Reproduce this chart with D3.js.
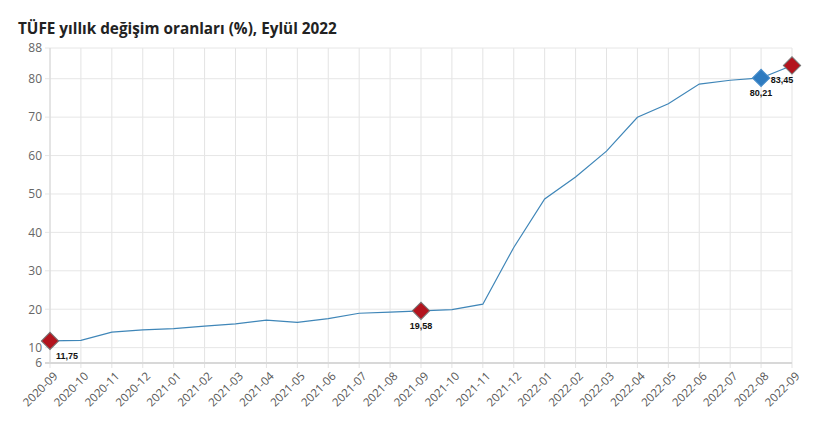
<!DOCTYPE html>
<html>
<head>
<meta charset="utf-8">
<script src="https://cdn.jsdelivr.net/npm/d3@7"></script>
<style>
  body { margin: 0; background: #fff; }
  svg { display: block; font-family: "Open Sans", "DejaVu Sans", sans-serif; }
</style>
</head>
<body>
<svg id="chart" width="823" height="430"></svg>
<script>
// veriler
const months = ['2020-09','2020-10','2020-11','2020-12','2021-01','2021-02','2021-03','2021-04',
  '2021-05','2021-06','2021-07','2021-08','2021-09','2021-10','2021-11','2021-12','2022-01',
  '2022-02','2022-03','2022-04','2022-05','2022-06','2022-07','2022-08','2022-09'];
const tufe = [11.75, 11.89, 14.03, 14.60, 14.97, 15.61, 16.19, 17.14, 16.59, 17.53, 18.95, 19.25,
  19.58, 19.89, 21.31, 36.08, 48.69, 54.44, 61.14, 69.97, 73.50, 78.62, 79.60, 80.21, 83.45];
const yTicks = [6, 10, 20, 30, 40, 50, 60, 70, 80, 88];
const markedRed = ['2020-09', '2021-09', '2022-09'];
const markedBlue = ['2022-08'];

const svg = d3.select('#chart');
const mLeft = 50, mRight = 792, mTop = 48, mBottom = 363;

const x = d3.scalePoint().domain(months).range([mLeft, mRight]);
const y = d3.scaleLinear().domain([6, 88]).range([mBottom, mTop]);

svg.append('text')
  .attr('x', 18).attr('y', 34)
  .attr('font-size', 15.3).attr('font-weight', 700).attr('fill', '#222')
  .text('TÜFE yıllık değişim oranları (%), Eylül 2022');

// izgara
svg.append('g').selectAll('line').data(months).join('line')
  .attr('x1', d => x(d)).attr('x2', d => x(d))
  .attr('y1', mTop).attr('y2', mBottom + 5)
  .attr('stroke', '#e3e3e3').attr('stroke-width', 1);

svg.append('g').selectAll('line').data(yTicks).join('line')
  .attr('x1', mLeft - 5).attr('x2', mRight)
  .attr('y1', d => y(d)).attr('y2', d => y(d))
  .attr('stroke', d => d === 6 ? '#d8d8d8' : '#e6e6e6')
  .attr('stroke-width', d => d === 6 ? 2 : 1);

svg.append('line')
  .attr('x1', mLeft).attr('x2', mLeft).attr('y1', mTop).attr('y2', mBottom)
  .attr('stroke', '#d8d8d8');

// eksen etiketleri
const yAxis = svg.append('g')
  .attr('transform', `translate(${mLeft - 6},0)`)
  .call(d3.axisLeft(y).tickValues(yTicks).tickSize(0).tickPadding(2));
yAxis.select('.domain').remove();
yAxis.selectAll('text').attr('font-size', 12).attr('fill', '#666')
  .attr('font-family', '"Open Sans", sans-serif');

const xAxis = svg.append('g')
  .attr('transform', `translate(0,${mBottom})`)
  .call(d3.axisBottom(x).tickSize(0));
xAxis.select('.domain').remove();
xAxis.selectAll('text')
  .attr('font-size', 11.5).attr('fill', '#555')
  .attr('font-family', '"Open Sans", sans-serif')
  .attr('text-anchor', 'end')
  .attr('y', 0).attr('dy', '0.35em')
  .attr('transform', 'translate(5,11) rotate(-45)');

// cizgi
const line = d3.line().x((d, i) => x(months[i])).y(d => y(d));
svg.append('path').datum(tufe)
  .attr('d', line).attr('fill', 'none')
  .attr('stroke', '#3f86b8').attr('stroke-width', 1.2);

// isaretler
const diamond = d3.symbol().type(d3.symbolSquare).size(150);
const marks = months.map((m, i) => ({ m, v: tufe[i] }))
  .filter(d => markedRed.includes(d.m) || markedBlue.includes(d.m));

svg.append('g').selectAll('path').data(marks).join('path')
  .attr('d', diamond)
  .attr('transform', d => `translate(${x(d.m)},${y(d.v)}) rotate(45)`)
  .attr('fill', d => markedBlue.includes(d.m) ? '#2e7bc0' : '#b3141e')
  .attr('stroke', d => markedBlue.includes(d.m) ? '#4a8fcc' : '#777')
  .attr('stroke-width', 1);

const fmt = v => v.toFixed(2).replace('.', ',');
const labelPos = { '2020-09': [6, 18, 'start'], '2021-09': [0, 18, 'middle'],
  '2022-08': [0, 18, 'middle'], '2022-09': [-10, 18, 'middle'] };
svg.append('g').selectAll('text').data(marks).join('text')
  .attr('x', d => x(d.m) + labelPos[d.m][0])
  .attr('y', d => y(d.v) + labelPos[d.m][1])
  .attr('text-anchor', d => labelPos[d.m][2])
  .attr('font-family', '"Liberation Sans", Arial, sans-serif')
  .attr('font-size', 9).attr('font-weight', 700).attr('fill', '#111')
  .text(d => fmt(d.v));
</script>
</body>
</html>
